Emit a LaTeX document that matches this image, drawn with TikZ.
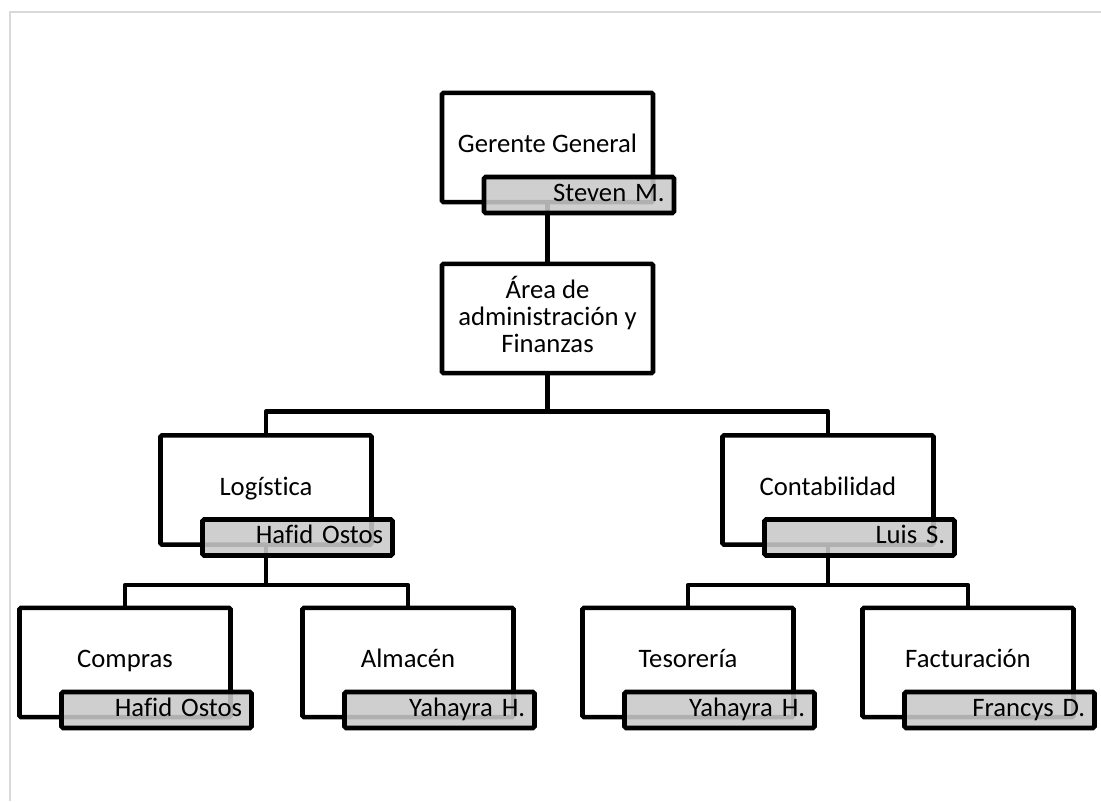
\documentclass[tikz,border=0pt]{standalone}
\usepackage{fontspec}
\setmainfont{Carlito}[Ligatures=CommonOff]
\begin{document}
\begin{tikzpicture}[x=0.75pt,y=-0.75pt,
  every node/.style={font=\fontsize{20}{20}\selectfont},
  unitbox/.style={draw, line width=3.4pt, rounded corners=1.2pt, fill=white,
    minimum width=158.25pt, minimum height=82pt, inner sep=0pt, align=center},
  namebar/.style={draw, line width=3.4pt, rounded corners=1.2pt,
    fill=black!21, fill opacity=0.88, text opacity=1,
    minimum height=27pt, inner xsep=7pt, inner ysep=0pt,
    text height=14pt, text depth=4.5pt,
    text width=128.5pt, align=right},
  link/.style={line width=3.4pt, line join=round},
  frameline/.style={draw=black!15, line width=1.5pt}]
\useasboundingbox (0,0) rectangle (1101,801);
% page frame
\draw[frameline] (9.5,801) |- (1101,11.5);

% unit boxes
\node[unitbox] (gg)   at (547.5,147.5) {\raisebox{6pt}{Gerente General}};
\node[unitbox] (area) at (547.5,318.5) {\raisebox{7.5pt}{\begin{tabular}{@{}c@{}}Área de\\administración y\\Finanzas\end{tabular}}};
\node[unitbox] (log)  at (266,490)   {\raisebox{6pt}{Logística}};
\node[unitbox] (cont) at (828,490)   {\raisebox{6pt}{Contabilidad}};
\node[unitbox] (comp) at (125,662.5) {\raisebox{6pt}{Compras}};
\node[unitbox] (alm)  at (408,662.5) {\raisebox{6pt}{Almacén}};
\node[unitbox] (tes)  at (688,662.5) {\raisebox{6pt}{Tesorería}};
\node[unitbox] (fac)  at (968,662.5) {\raisebox{6pt}{Facturación}};

% reporting lines
\draw[link] (gg.south) -- (area.north);
\draw[link] (area.south) -- ++(0,36) -| (log.north);
\draw[link] (area.south) -- ++(0,36) -| (cont.north);
\draw[link] (log.south) -- ++(0,38) -| (comp.north);
\draw[link] (log.south) -- ++(0,38) -| (alm.north);
\draw[link] (cont.south) -- ++(0,38) -| (tes.north);
\draw[link] (cont.south) -- ++(0,38) -| (fac.north);

% name bars
\node[namebar] (ggn)   at ([shift={(31.5,47.5)}]gg.center)   {Steven M.};
\node[namebar] (logn)  at ([shift={(31.5,47.5)}]log.center)  {Hafid Ostos};
\node[namebar] (contn) at ([shift={(31.5,47.5)}]cont.center) {Luis S.};
\node[namebar] (compn) at ([shift={(31.5,47.5)}]comp.center) {Hafid Ostos};
\node[namebar] (almn)  at ([shift={(31.5,47.5)}]alm.center)  {Yahayra H.};
\node[namebar] (tesn)  at ([shift={(31.5,47.5)}]tes.center)  {Yahayra H.};
\node[namebar] (facn)  at ([shift={(31.5,47.5)}]fac.center)  {Francys D.};
\end{tikzpicture}
\end{document}
